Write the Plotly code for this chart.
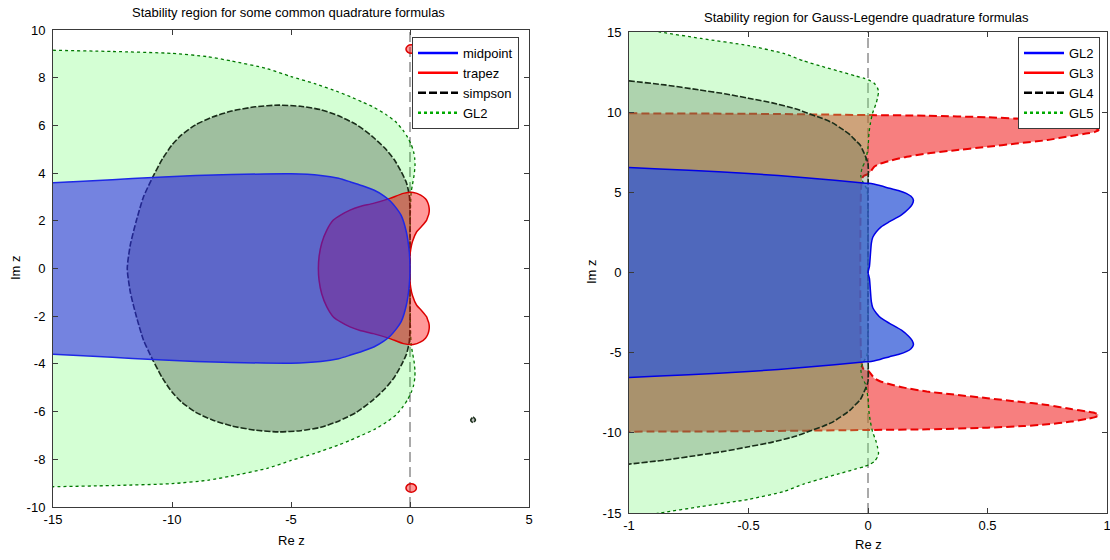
import plotly.graph_objects as go

W, H = 1110, 560
OFF = 0
FONT = "Liberation Sans, Arial, Helvetica, sans-serif"

# ---------------- Left panel: common quadrature formulas ----------------
gl2_left_x = [-16, -15, -12.5, -10, -8.5, -7.5, -6, -5, -4, -3, -2.5, -2, -1.5, -1, -0.6, -0.3, -0.1,
              0.05, 0.15, 0.2, 0.21, 0.17, 0.1, 0.05, 0.02, 0.0,
              0.0,
              0.0, 0.02, 0.05, 0.1, 0.17, 0.21, 0.2, 0.15, 0.05, -0.1, -0.3, -0.6, -1, -1.5, -2, -2.5,
              -3, -4, -5, -6, -7.5, -8.5, -10, -12.5, -15, -16]
gl2_left_y = [9.17, 9.15, 9.1, 9.02, 8.88, 8.7, 8.38, 8.05, 7.75, 7.4, 7.2, 6.98, 6.75, 6.45, 6.15, 5.8, 5.5,
              5.2, 4.9, 4.6, 4.3, 3.9, 3.5, 3.2, 2.5, 1.0,
              0.0,
              -1.0, -2.5, -3.2, -3.5, -3.9, -4.3, -4.6, -4.9, -5.2, -5.5, -5.8, -6.15, -6.45, -6.75, -6.98, -7.2,
              -7.4, -7.75, -8.05, -8.38, -8.7, -8.88, -9.02, -9.1, -9.15, -9.17]

simpson_x = [0, 0, -0.03, -0.15, -0.37, -0.65, -1.05, -1.6, -2.25, -3, -3.75, -4.6, -5.5, -6.5, -7.5, -8.3,
             -9, -9.6, -10, -10.4, -10.8, -11.2, -11.5, -11.75, -11.88, -11.75, -11.5, -11.2, -10.8, -10.4,
             -10, -9.6, -9, -8.3, -7.5, -6.5, -5.5, -4.6, -3.75, -3, -2.25, -1.6, -1.05, -0.65, -0.37, -0.15,
             -0.03, 0, 0,
             None, 2.55, 2.65, 2.75, 2.65, 2.55,
             None, 2.55, 2.65, 2.75, 2.65, 2.55]
simpson_y = [0, 2.5, 3.07, 3.6, 4.06, 4.55, 5.04, 5.55, 6.03, 6.4, 6.66, 6.8, 6.85, 6.78, 6.6, 6.35,
             6.03, 5.6, 5.18, 4.6, 3.85, 3.0, 2.0, 1.0, 0, -1.0, -2.0, -3.0, -3.85, -4.6,
             -5.18, -5.6, -6.03, -6.35, -6.6, -6.78, -6.85, -6.8, -6.66, -6.4, -6.03, -5.55, -5.04, -4.55, -4.06, -3.6,
             -3.07, -2.5, 0,
             None, 6.35, 6.47, 6.35, 6.23, 6.35,
             None, -6.35, -6.23, -6.35, -6.47, -6.35]

trapez_x = [0, 0, 0.03, 0.1, 0.28, 0.5, 0.7, 0.74, 0.79, 0.81, 0.79, 0.74, 0.65, 0.45, 0.14, -0.28, -0.84,
            -1.54, -2.1, -2.52, -2.9, -3.22, -3.5, -3.71, -3.82, -3.85, -3.82, -3.71, -3.5, -3.22, -2.9, -2.52,
            -2.1, -1.54, -0.84, -0.28, 0.14, 0.45, 0.65, 0.74, 0.79, 0.81, 0.79, 0.74, 0.7, 0.5, 0.28, 0.1,
            0.03, 0, 0,
            None, -0.17, -0.1, 0.05, 0.2, 0.27, 0.2, 0.05, -0.1, -0.17,
            None, -0.17, -0.1, 0.05, 0.2, 0.27, 0.2, 0.05, -0.1, -0.17]
trapez_y = [0, 0.5, 0.8, 1.12, 1.54, 1.78, 2.03, 2.14, 2.28, 2.45, 2.62, 2.78, 2.92, 3.08, 3.19, 3.15, 2.94,
            2.73, 2.6, 2.45, 2.25, 2.03, 1.6, 1.06, 0.5, 0, -0.5, -1.06, -1.6, -2.03, -2.25, -2.45,
            -2.6, -2.73, -2.94, -3.15, -3.19, -3.08, -2.92, -2.78, -2.62, -2.45, -2.28, -2.14, -2.03, -1.78,
            -1.54, -1.12, -0.8, -0.5, 0,
            None, 9.2, 9.33, 9.38, 9.33, 9.2, 9.07, 9.02, 9.07, 9.2,
            None, -9.2, -9.07, -9.02, -9.07, -9.2, -9.33, -9.38, -9.33, -9.2]

midpoint_x = [-16, -15, -12.5, -10.8, -9, -7.5, -5, -3.75, -3, -2.5, -2, -1.5, -1.1, -0.82, -0.55, -0.37,
              -0.15, -0.03, 0, -0.03, -0.15, -0.37, -0.55, -0.82, -1.1, -1.5, -2, -2.5, -3, -3.75, -5,
              -7.5, -9, -10.8, -12.5, -15, -16]
midpoint_y = [3.55, 3.6, 3.72, 3.82, 3.9, 3.94, 3.97, 3.9, 3.78, 3.63, 3.47, 3.28, 3.05, 2.82, 2.5, 2.23,
              1.52, 0.68, 0, -0.68, -1.52, -2.23, -2.5, -2.82, -3.05, -3.28, -3.47, -3.63, -3.78, -3.9, -3.97,
              -3.94, -3.9, -3.82, -3.72, -3.6, -3.55]

# ---------------- Right panel: Gauss-Legendre formulas ----------------
gl5_x = [-1.1, -0.87, -0.7, -0.5, -0.35, -0.27, -0.18, -0.12, -0.05, -0.018, 0.01, 0.026, 0.04, 0.044, 0.04,
         0.034, 0.019, 0.01, 0.004, 0, -0.01, -0.025, -0.03, -0.02, -0.005, 0,
         0,
         0, -0.005, -0.02, -0.03, -0.025, -0.01, 0, 0.004, 0.01, 0.019, 0.034, 0.04, 0.044, 0.04, 0.026,
         0.01, -0.018, -0.05, -0.12, -0.18, -0.27, -0.35, -0.5, -0.7, -0.87, -1.1]
gl5_y = [15.6, 15.0, 14.6, 14.15, 13.65, 13.2, 12.8, 12.55, 12.25, 12.12, 11.95, 11.8, 11.5, 11.28, 10.9,
         10.55, 9.93, 9.3, 8.67, 7.8, 7.0, 6.5, 6.0, 5.6, 5.2, 4.5,
         0,
         -4.5, -5.2, -5.6, -6.0, -6.5, -7.0, -7.8, -8.67, -9.3, -9.93, -10.55, -10.9, -11.28, -11.5, -11.8,
         -11.95, -12.12, -12.25, -12.55, -12.8, -13.2, -13.65, -14.15, -14.6, -15.0, -15.6]

gl4_x = [-1.1, -1, -0.85, -0.707, -0.6, -0.5, -0.4, -0.3, -0.243, -0.19, -0.15, -0.103, -0.076, -0.05,
         -0.033, -0.015, 0, 0,
         0,
         0, 0, -0.015, -0.033, -0.05, -0.076, -0.103, -0.15, -0.19, -0.243, -0.3, -0.4, -0.5, -0.6,
         -0.707, -0.85, -1, -1.1]
gl4_y = [12.12, 11.95, 11.7, 11.39, 11.15, 10.87, 10.58, 10.2, 9.88, 9.6, 9.35, 8.89, 8.6, 8.2,
         7.95, 7.4, 6.8, 5.0,
         0,
         -5.0, -6.8, -7.4, -7.95, -8.2, -8.6, -8.89, -9.35, -9.6, -9.88, -10.2, -10.58, -10.87, -11.15,
         -11.39, -11.7, -11.95, -12.12]

gl3_x = [-1.1, -0.5, 0, 0.25, 0.5, 0.65, 0.75, 0.85, 0.92, 0.95, 0.965, 0.95, 0.92, 0.85, 0.75, 0.62, 0.5,
         0.35, 0.246, 0.15, 0.1, 0.05, 0.026, 0.004, -0.02, -0.028,
         -0.028, -0.02, 0.004, 0.026, 0.05, 0.1, 0.15, 0.246, 0.35, 0.5, 0.62, 0.75, 0.85, 0.92, 0.95, 0.965,
         0.95, 0.92, 0.85, 0.75, 0.65, 0.5, 0.25, 0, -0.5, -1.1]
gl3_y = [9.93, 9.9, 9.82, 9.78, 9.68, 9.58, 9.47, 9.3, 9.12, 9.02, 8.89, 8.77, 8.68, 8.52, 8.26, 8.04, 7.84,
         7.6, 7.42, 7.18, 7.0, 6.78, 6.59, 6.17, 6.0, 5.5,
         -5.5, -6.0, -6.17, -6.59, -6.78, -7.0, -7.18, -7.42, -7.6, -7.84, -8.04, -8.26, -8.52, -8.68, -8.77,
         -8.89, -9.02, -9.12, -9.3, -9.47, -9.58, -9.68, -9.78, -9.82, -9.9, -9.93]

gl2_right_x = [-1.1, -1, -0.75, -0.5, -0.25, -0.02, 0.004, 0.05, 0.09, 0.13, 0.16, 0.18, 0.19, 0.185, 0.17,
               0.14, 0.09, 0.055, 0.035, 0.02, 0.014, 0.006,
               0,
               0.006, 0.014, 0.02, 0.035, 0.055, 0.09, 0.14, 0.17, 0.185, 0.19, 0.18, 0.16, 0.13, 0.09, 0.05,
               0.004, -0.02, -0.25, -0.5, -0.75, -1, -1.1]
gl2_right_y = [6.6, 6.55, 6.37, 6.18, 5.9, 5.58, 5.56, 5.42, 5.25, 5.1, 4.94, 4.75, 4.52, 4.25, 3.98,
               3.6, 3.17, 2.85, 2.54, 2.2, 1.82, 0.37,
               0,
               -0.37, -1.82, -2.2, -2.54, -2.85, -3.17, -3.6, -3.98, -4.25, -4.52, -4.75, -4.94, -5.1, -5.25,
               -5.42, -5.56, -5.58, -5.9, -6.18, -6.37, -6.55, -6.6]

# ticks
left_xticks = [-15, -10, -5, 0, 5]
left_xtext = ["-15", "-10", "-5", "0", "5"]
left_yticks = [-10, -8, -6, -4, -2, 0, 2, 4, 6, 8, 10]
left_ytext = ["-10", "-8", "-6", "-4", "-2", "0", "2", "4", "6", "8", "10"]
right_xticks = [-1, -0.5, 0, 0.5, 1]
right_xtext = ["-1", "-0.5", "0", "0.5", "1"]
right_yticks = [-15, -10, -5, 0, 5, 10, 15]
right_ytext = ["-15", "-10", "-5", "0", "5", "10", "15"]

left_names = ["midpoint", "trapez", "simpson", "GL2"]
right_names = ["GL2", "GL3", "GL4", "GL5"]


def fx(p):
    return (p - OFF) / W


def fy(p):
    return 1 - (p - OFF) / H


fig = go.Figure()


def region(x, y, fill, lcolor, dash, xa, ya, width=1.3):
    fig.add_trace(go.Scatter(x=x, y=y, mode="lines", fill="toself", fillcolor=fill,
                             line=dict(color=lcolor, width=width, dash=dash, shape="spline", smoothing=0.6),
                             xaxis=xa, yaxis=ya, showlegend=False, hoverinfo="skip"))


# left panel regions (drawing order)
region(gl2_left_x, gl2_left_y, "rgba(0,255,0,0.17)", "rgb(0,120,0)", "dot", "x", "y")
region(simpson_x, simpson_y, "rgba(0,0,0,0.25)", "rgb(25,45,25)", "6px,2px", "x", "y", 1.6)
region(trapez_x, trapez_y, "rgba(255,0,0,0.4)", "rgb(220,0,0)", "solid", "x", "y", 1.5)
region(midpoint_x, midpoint_y, "rgba(41,34,234,0.56)", "rgb(30,40,230)", "solid", "x", "y", 1.5)

# right panel regions (drawing order)
region(gl3_x, gl3_y, "rgba(240,0,0,0.5)", "rgb(235,0,0)", "8px,4px", "x2", "y2", 2)
region(gl5_x, gl5_y, "rgba(116,245,116,0.31)", "rgb(0,120,0)", "dot", "x2", "y2")
region(gl4_x, gl4_y, "rgba(75,103,75,0.28)", "rgb(25,45,25)", "6px,2px", "x2", "y2", 1.6)
region(gl2_right_x, gl2_right_y, "rgba(50,90,215,0.75)", "rgb(0,0,230)", "solid", "x2", "y2", 1.5)

# legend entries (line samples only)
styles = [("rgb(0,0,255)", "solid"), ("rgb(255,0,0)", "solid"), ("black", "8px,3px"), ("rgb(0,170,0)", "dot")]
for name, (c, d) in zip(left_names, styles):
    fig.add_trace(go.Scatter(x=[None], y=[None], mode="lines", name=name,
                             line=dict(color=c, dash=d, width=2.5), xaxis="x", yaxis="y", legend="legend"))
for name, (c, d) in zip(right_names, styles):
    fig.add_trace(go.Scatter(x=[None], y=[None], mode="lines", name=name,
                             line=dict(color=c, dash=d, width=2.5), xaxis="x2", yaxis="y2", legend="legend2"))

# imaginary axis dashed line
for xr, yr in (("x", "y domain"), ("x2", "y2 domain")):
    fig.add_shape(type="line", xref=xr, yref=yr, x0=0, x1=0, y0=0, y1=1,
                  line=dict(color="rgb(40,40,40)", width=0.8, dash="10px,5px"), layer="below")

axis_common = dict(showline=True, linecolor="#3a3a3a", linewidth=1, mirror="ticks", ticks="inside",
                   ticklen=5, tickcolor="#3a3a3a", showgrid=False, zeroline=False, automargin=False,
                   ticklabeloverflow="allow",
                   tickfont=dict(size=13, color="black", family=FONT))

fig.update_layout(
    template="none",
    width=W, height=H, autosize=False,
    margin=dict(l=0, r=0, t=0, b=0, pad=0),
    paper_bgcolor="white", plot_bgcolor="white",
    font=dict(family=FONT, size=13, color="black"),
    xaxis=dict(domain=[fx(53), fx(529)], range=[-15, 5], tickvals=left_xticks, ticktext=left_xtext,
               anchor="y", **axis_common),
    yaxis=dict(domain=[fy(507), fy(30)], range=[-10, 10], tickvals=left_yticks, ticktext=left_ytext,
               anchor="x", ticklabelstandoff=4, **axis_common),
    xaxis2=dict(domain=[fx(629), fx(1107)], range=[-1, 1], tickvals=right_xticks, ticktext=right_xtext,
                anchor="y2", **axis_common),
    yaxis2=dict(domain=[fy(513), fy(32)], range=[-15, 15], tickvals=right_yticks, ticktext=right_ytext,
                anchor="x2", ticklabelstandoff=4, **axis_common),
    legend=dict(x=fx(412), xanchor="left", y=fy(37), yanchor="top", bgcolor="white",
                bordercolor="#3a3a3a", borderwidth=1, font=dict(size=13), itemwidth=40, tracegroupgap=0),
    legend2=dict(x=fx(1018), xanchor="left", y=fy(37), yanchor="top", bgcolor="white",
                 bordercolor="#3a3a3a", borderwidth=1, font=dict(size=13), itemwidth=40, tracegroupgap=0),
    showlegend=True,
)

# (text, x px, y px, angle)
ann = [
    ("Stability region for some common quadrature formulas", 288, 12, 0),
    ("Stability region for Gauss-Legendre quadrature formulas", 866, 17, 0),
    ("Re z", 291, 540, 0),
    ("Re z", 868, 544, 0),
    ("Im z", 15, 268, -90),
    ("Im z", 591, 272, -90),
]
for text, px, py, ang in ann:
    fig.add_annotation(text=text, x=fx(px), y=fy(py), xref="paper", yref="paper", showarrow=False,
                       xanchor="center", yanchor="middle", textangle=ang, borderpad=0,
                       font=dict(size=13, color="black", family=FONT))

fig.write_html("out.html", config={"displayModeBar": False},
               post_script="document.body.style.margin='0px';document.body.style.overflow='hidden';")
